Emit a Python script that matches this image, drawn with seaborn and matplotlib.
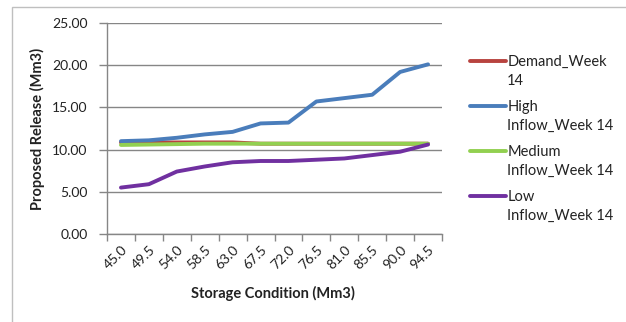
import numpy as np
import pandas as pd
import seaborn as sns
import matplotlib
matplotlib.use("Agg")
import matplotlib.pyplot as plt
from matplotlib.patches import Rectangle

# Storage levels (Mm3) used as category labels
storage = ["45.0", "49.5", "54.0", "58.5", "63.0", "67.5", "72.0",
           "76.5", "81.0", "85.5", "90.0", "94.5"]

# Proposed release (Mm3) for week 14
demand = [10.85, 10.85, 10.85, 10.85, 10.85, 10.7, 10.7, 10.7, 10.7, 10.7, 10.7, 10.7]
high_inflow = [11.0, 11.1, 11.4, 11.8, 12.1, 13.1, 13.2, 15.7, 16.1, 16.5, 19.2, 20.1]
medium_inflow = [10.55, 10.6, 10.65, 10.7, 10.7, 10.7, 10.7, 10.7, 10.7, 10.7, 10.7, 10.7]
low_inflow = [5.5, 5.9, 7.4, 8.0, 8.5, 8.65, 8.65, 8.8, 8.95, 9.35, 9.75, 10.6]

series_names = ["Demand_Week\n14", "High\nInflow_Week 14",
                "Medium\nInflow_Week 14", "Low\nInflow_Week 14"]
series_values = [demand, high_inflow, medium_inflow, low_inflow]
colors = ["#B8433F", "#4A7DBB", "#92D050", "#7030A0"]

df = pd.concat(
    [pd.DataFrame({"Storage": storage, "Release": vals, "Series": name})
     for name, vals in zip(series_names, series_values)],
    ignore_index=True,
)

sns.set_theme(style="white")
plt.rcParams["font.family"] = ["Lato", "DejaVu Sans"]

TXT = "#222222"
GRID = "#868686"
W, H = 626, 322
fig = plt.figure(figsize=(W / 100, H / 100), dpi=100)
ax = fig.add_axes([107 / W, 1 - 234 / H, (442 - 107) / W, (234 - 23) / H])

# Chart-area frame
fig.patches.append(Rectangle((12 / W, -0.05), 1.2, 1 - 7 / H + 0.05,
                             transform=fig.transFigure, fill=False,
                             edgecolor="#BFBFBF", linewidth=1.0, zorder=-1))

sns.lineplot(data=df, x="Storage", y="Release", hue="Series",
             hue_order=series_names, palette=colors, linewidth=2.8,
             sort=False, ax=ax, legend=True)

ax.set_xlim(-0.5, len(storage) - 0.5)
ax.set_ylim(0, 25)
ax.set_yticks(np.arange(0, 25.01, 5))
ax.set_yticklabels([f"{v:.2f}" for v in np.arange(0, 25.01, 5)])

# tick marks sit between categories, labels at category centres
ax.set_xticks(np.arange(-0.5, len(storage), 1.0))
ax.set_xticklabels([])
ax.set_xticks(np.arange(len(storage)), minor=True)
ax.set_xticklabels(storage, minor=True, rotation=45, ha="right",
                   rotation_mode="anchor", fontsize=10, color=TXT)
ax.tick_params(axis="x", which="major", length=5, width=1, color=GRID,
               direction="out", bottom=True)
ax.tick_params(axis="x", which="minor", length=0, pad=7, bottom=True)
ax.tick_params(axis="y", length=6, width=1, color=GRID, direction="out",
               left=True, pad=8, labelsize=10, labelcolor=TXT)

ax.grid(axis="y", color=GRID, linewidth=1)
ax.set_axisbelow(True)
for side in ["top", "right"]:
    ax.spines[side].set_visible(False)
for side in ["left", "bottom"]:
    ax.spines[side].set_color(GRID)
    ax.spines[side].set_linewidth(1)

ax.set_xlabel("Storage Condition (Mm3)", fontsize=10.5, fontweight="bold", color=TXT)
ax.set_ylabel("Proposed Release (Mm3)", fontsize=10.5, fontweight="bold", color=TXT)
ax.xaxis.set_label_coords(0.495, -0.245)
ax.yaxis.set_label_coords(-0.185, 0.5)

# one legend block per series, stacked down the right-hand side
handles, labels = ax.get_legend_handles_labels()
ax.get_legend().remove()
entry_top_px = 55
entry_step_px = 45
for i, (h, lab) in enumerate(zip(handles, labels)):
    leg = fig.legend([h], [lab], loc="upper left",
                     bbox_to_anchor=(470 / W, 1 - (entry_top_px + i * entry_step_px) / H),
                     bbox_transform=fig.transFigure, frameon=False, fontsize=10.5,
                     handlelength=2.45, handletextpad=0.1, handleheight=1.0,
                     borderaxespad=0, borderpad=0)
    for t in leg.get_texts():
        t.set_color(TXT)
        t.set_linespacing(1.45)
    # keep the line beside the first line of the label
    for column in leg._legend_handle_box.get_children():
        for item in column.get_children():
            item.align = "top"

fig.savefig("out.png", dpi=100)
